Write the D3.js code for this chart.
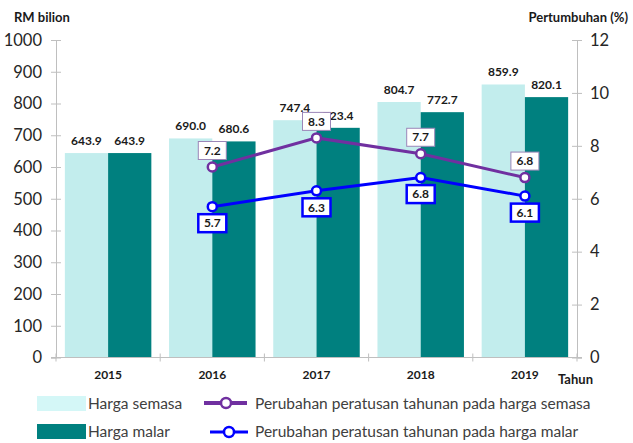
<!DOCTYPE html>
<html>
<head>
<meta charset="utf-8">
<script src="https://cdn.jsdelivr.net/npm/d3@7"></script>
<style>
  body { margin: 0; background: #fff; }
  text { font-family: Lato, "DejaVu Sans", sans-serif; }
</style>
</head>
<body>
<svg width="633" height="443"></svg>
<script>
// data
const years = ["2015", "2016", "2017", "2018", "2019"];
const semasa = [643.9, 690.0, 747.4, 804.7, 859.9];
const malar = [643.9, 680.6, 723.4, 772.7, 820.1];
const lineYears = ["2016", "2017", "2018", "2019"];
const growthSemasa = [7.2, 8.3, 7.7, 6.8];
const growthMalar = [5.7, 6.3, 6.8, 6.1];
const leftTicks = [0, 100, 200, 300, 400, 500, 600, 700, 800, 900, 1000];
const rightTicks = [0, 2, 4, 6, 8, 10, 12];

const cLight = '#c2eded', cDark = '#00807f', cPurple = '#7030a0', cBlue = '#0000ff';
const axisGray = '#bfbfbf';

const svg = d3.select('svg')

const x0 = d3.scaleBand().domain(years).range([56, 577]).paddingInner(0.17).paddingOuter(0.085)
const x1 = d3.scaleBand().domain(['semasa', 'malar']).range([0, x0.bandwidth()])
const yL = d3.scaleLinear().domain([0, 1000]).range([357.5, 40])
const yR = d3.scaleLinear().domain([0, 12]).range([357.5, 40])

// left axis
const gL = svg.append('g').attr('transform', 'translate(56,0)')
  .call(d3.axisLeft(yL).tickValues(leftTicks).tickFormat(d3.format('d')).tickSize(5).tickPadding(9))
gL.select('.domain').attr('stroke', axisGray)
gL.selectAll('.tick line').attr('stroke', axisGray).attr('x2', 5).attr('x1', -5)
gL.selectAll('.tick text').attr('font-size', 16.5).attr('fill', '#262626').style('font-family', 'Lato')

// right axis
const gR = svg.append('g').attr('transform', 'translate(577,0)')
  .call(d3.axisRight(yR).tickValues(rightTicks).tickSize(5).tickPadding(8))
gR.select('.domain').attr('stroke', axisGray)
gR.selectAll('.tick line').attr('stroke', axisGray).attr('x2', 5).attr('x1', -5)
gR.selectAll('.tick text').attr('font-size', 16.5).attr('fill', '#262626').style('font-family', 'Lato')

// bars
const groups = svg.selectAll('.yr')
  .data(years)
  .enter().append('g')
  .attr('transform', d => `translate(${x0(d)},0)`)

groups.append('rect')
  .attr('x', x1('semasa'))
  .attr('width', x1.bandwidth())
  .attr('y', (d, i) => yL(semasa[i]))
  .attr('height', (d, i) => yL(0) - yL(semasa[i]))
  .attr('fill', cLight)

groups.append('rect')
  .attr('x', x1('malar'))
  .attr('width', x1.bandwidth())
  .attr('y', (d, i) => yL(malar[i]))
  .attr('height', (d, i) => yL(0) - yL(malar[i]))
  .attr('fill', cDark)

groups.append('text')
  .attr('x', x1('semasa') + x1.bandwidth() / 2)
  .attr('y', (d, i) => yL(semasa[i]) - 8)
  .attr('text-anchor', 'middle')
  .attr('font-size', 12).attr('font-weight', 700).attr('fill', '#1a1a1a')
  .text((d, i) => semasa[i].toFixed(1))

groups.append('text')
  .attr('x', x1('malar') + x1.bandwidth() / 2)
  .attr('y', (d, i) => yL(malar[i]) - 8)
  .attr('text-anchor', 'middle')
  .attr('font-size', 12).attr('font-weight', 700).attr('fill', '#1a1a1a')
  .text((d, i) => malar[i].toFixed(1))

// bottom axis
svg.append('line')
  .attr('x1', 51).attr('x2', 582)
  .attr('y1', yL(0)).attr('y2', yL(0))
  .attr('stroke', axisGray)

const bounds = d3.range(years.length + 1).map(i => x0.range()[0] + i * x0.step())
svg.selectAll('.btick')
  .data(bounds)
  .enter().append('line')
  .attr('x1', d => d).attr('x2', d => d)
  .attr('y1', yL(0) - 4).attr('y2', yL(0) + 4)
  .attr('stroke', axisGray)

svg.selectAll('.cat')
  .data(years)
  .enter().append('text')
  .attr('x', d => x0(d) + x0.bandwidth() / 2)
  .attr('y', 379)
  .attr('text-anchor', 'middle')
  .attr('font-size', 12).attr('font-weight', 700).attr('fill', '#1a1a1a')
  .text(d => d)

// axis titles
svg.append('text').attr('x', 14).attr('y', 22)
  .attr('font-size', 13).attr('font-weight', 700).attr('fill', '#1a1a1a')
  .text('RM bilion')
svg.append('text').attr('x', 628).attr('y', 22).attr('text-anchor', 'end')
  .attr('font-size', 13).attr('font-weight', 700).attr('fill', '#1a1a1a')
  .text('Pertumbuhan (%)')
svg.append('text').attr('x', 558).attr('y', 384)
  .attr('font-size', 13).attr('font-weight', 700).attr('fill', '#1a1a1a')
  .text('Tahun')

// lines
const lx = d => x0(d) + x0.bandwidth() / 2
const line = d3.line().x(d => lx(d[0])).y(d => yR(d[1]))

function drawSeries(vals, color, above, boxStroke, boxW) {
  const pts = lineYears.map((d, i) => [d, vals[i]])
  svg.append('path')
    .datum(pts)
    .attr('d', line)
    .attr('fill', 'none')
    .attr('stroke', color)
    .attr('stroke-width', 3)
  svg.selectAll(null)
    .data(pts)
    .enter().append('circle')
    .attr('cx', d => lx(d[0]))
    .attr('cy', d => yR(d[1]))
    .attr('r', 4.5)
    .attr('fill', '#fff')
    .attr('stroke', color)
    .attr('stroke-width', 2.5)
  const lab = svg.selectAll(null)
    .data(pts)
    .enter().append('g')
    .attr('transform', d => `translate(${lx(d[0])},${yR(d[1]) + (above ? -16.5 : 16.5)})`)
  lab.append('rect')
    .attr('x', -14).attr('y', -9)
    .attr('width', 28).attr('height', 18)
    .attr('fill', '#fff')
    .attr('stroke', boxStroke)
    .attr('stroke-width', boxW)
  lab.append('text')
    .attr('text-anchor', 'middle')
    .attr('dy', '0.35em')
    .attr('font-size', 12).attr('font-weight', 700).attr('fill', '#1a1a1a')
    .text(d => d[1].toFixed(1))
}

drawSeries(growthSemasa, cPurple, true, '#9b86b8', 1)
drawSeries(growthMalar, cBlue, false, cBlue, 2.5)

// legend
const leg = svg.append('g')
leg.append('rect').attr('x', 37).attr('y', 396).attr('width', 49).attr('height', 15).attr('fill', '#d4f7f7')
leg.append('text').attr('x', 88).attr('y', 408.5).attr('font-size', 15.5).attr('fill', '#404040').text('Harga semasa')
leg.append('rect').attr('x', 37).attr('y', 424).attr('width', 49).attr('height', 15).attr('fill', cDark)
leg.append('text').attr('x', 88).attr('y', 437).attr('font-size', 15.5).attr('fill', '#404040').text('Harga malar')

leg.append('line').attr('x1', 204).attr('x2', 247).attr('y1', 403).attr('y2', 403)
  .attr('stroke', cPurple).attr('stroke-width', 4)
leg.append('circle').attr('cx', 226).attr('cy', 403).attr('r', 5)
  .attr('fill', '#fff').attr('stroke', cPurple).attr('stroke-width', 2.5)
leg.append('text').attr('x', 255).attr('y', 408.5).attr('font-size', 15.5).attr('fill', '#404040')
  .text('Perubahan peratusan tahunan pada harga semasa')

leg.append('line').attr('x1', 210).attr('x2', 248).attr('y1', 432).attr('y2', 432)
  .attr('stroke', cBlue).attr('stroke-width', 3)
leg.append('circle').attr('cx', 229).attr('cy', 432).attr('r', 5)
  .attr('fill', '#fff').attr('stroke', cBlue).attr('stroke-width', 2.5)
leg.append('text').attr('x', 255).attr('y', 437).attr('font-size', 15.5).attr('fill', '#404040')
  .text('Perubahan peratusan tahunan pada harga malar')
</script>
</body>
</html>
